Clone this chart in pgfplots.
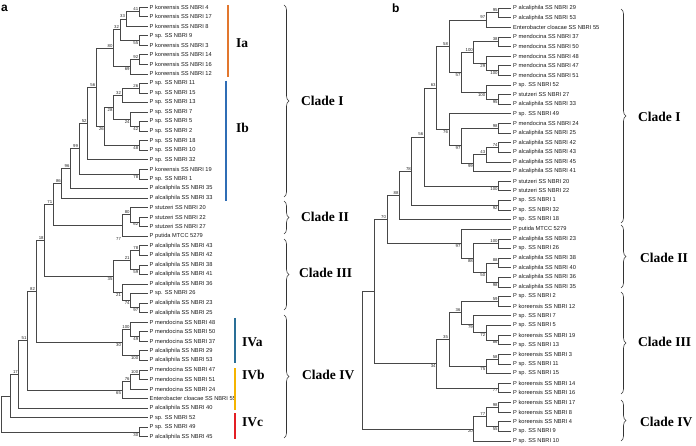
\documentclass[border=0pt]{standalone}
\usepackage{pgfplots}
\pgfplotsset{compat=1.18}
\usepackage{fontspec}
\setmainfont{Liberation Sans}
\newfontfamily\serifb{Liberation Serif}
\usetikzlibrary{decorations.pathreplacing}
\definecolor{iaorange}{HTML}{E2772E}
\definecolor{ibblue}{HTML}{2F6DB5}
\definecolor{ivablue}{HTML}{2A6F97}
\definecolor{ivbyellow}{HTML}{F5B400}
\definecolor{ivcred}{HTML}{E31E24}
\pgfplotsset{tr/.style={black!72, line width=0.75pt, no markers}}
\tikzset{bs/.style={font=\fontsize{4.3}{4.3}\selectfont, inner sep=0.8pt, text=black!85},
 lf/.style={anchor=west, font=\fontsize{5.7}{6}\selectfont, inner sep=0pt, text=black!90},
 cl/.style={anchor=west, font=\serifb\bfseries\fontsize{13.5}{14}\selectfont, inner sep=0pt},
 br/.style={decorate, decoration={brace, amplitude=5pt}, line width=0.6pt, black!80}}
% node: x, child1 x, child1 y, child2 y, child2 x
\newcommand{\nd}[5]{\addplot[tr] coordinates {(#2,#3) (#1,#3) (#1,#4) (#5,#4)};}
\newcommand{\bu}[3]{\node[bs,anchor=south east] at (axis cs:#1,#2) {#3};}
\newcommand{\bd}[3]{\node[bs,anchor=north east] at (axis cs:#1,#2) {#3};}
\newcommand{\lfa}[2]{\node[lf] at (axis cs:149.5,#1) {#2};}
\newcommand{\lfb}[2]{\node[lf] at (axis cs:513,#1) {#2};}
\begin{document}
\begin{tikzpicture}
\begin{axis}[width=696pt, height=446pt, scale only axis, xmin=0, xmax=696, ymin=0, ymax=446,
  y dir=reverse, hide axis, clip=false]
\path (rel axis cs:0,0) rectangle (rel axis cs:1,1);
% ================= PANEL A =================
\nd{139.2}{147.8}{7.0}{16.6}{147.8}     \bu{139.2}{11.8}{41}
\nd{126.0}{139.2}{11.8}{26.1}{147.8}    \bu{126.0}{18.95}{33}
\nd{139.2}{147.8}{35.7}{45.2}{147.8}    \bd{139.2}{40.45}{55}
\nd{120.0}{126.0}{18.95}{40.45}{139.2}  \bu{120.0}{29.7}{32}
\nd{139.2}{147.8}{54.8}{64.3}{147.8}    \bu{139.2}{59.55}{92}
\nd{130.6}{139.2}{59.55}{73.9}{147.8}   \bd{130.6}{66.7}{69}
\nd{113.4}{120.0}{29.7}{66.7}{130.6}    \bu{113.4}{48.2}{80}
\nd{139.2}{147.8}{83.4}{93.0}{147.8}    \bu{139.2}{88.2}{26}
\nd{122.0}{139.2}{88.2}{102.5}{147.8}   \bu{122.0}{95.35}{32}
\nd{139.2}{147.8}{121.6}{131.2}{147.8}  \bd{139.2}{126.4}{42}
\nd{130.6}{147.8}{112.1}{126.4}{139.2}  \bd{130.6}{119.25}{24}
\nd{113.4}{122.0}{95.35}{119.25}{130.6} \bd{113.4}{107.3}{28}
\nd{139.2}{147.8}{140.7}{150.3}{147.8}  \bd{139.2}{145.5}{48}
\nd{104.8}{113.4}{107.3}{145.5}{139.2}  \bd{104.8}{126.4}{26}
\nd{96.2}{113.4}{48.2}{126.4}{104.8}    \bu{96.2}{87.3}{56}
\nd{87.6}{96.2}{87.3}{159.8}{147.8}     \bu{87.6}{123.55}{52}
\nd{139.2}{147.8}{169.4}{178.9}{147.8}  \bd{139.2}{174.15}{78}
\nd{79.0}{87.6}{123.55}{174.15}{139.2}  \bu{79.0}{148.85}{99}
\nd{70.4}{79.0}{148.85}{188.5}{147.8}   \bu{70.4}{168.7}{96}
\nd{61.8}{70.4}{168.7}{198.0}{147.8}    \bu{61.8}{183.35}{86}
\nd{139.2}{147.8}{217.1}{226.7}{147.8}  \bd{139.2}{221.9}{62}
\nd{130.6}{147.8}{207.6}{221.9}{139.2}  \bu{130.6}{214.75}{80}
\nd{122.0}{130.6}{214.75}{236.2}{147.8} \bd{122.0}{236.2}{77}
\nd{53.2}{61.8}{183.35}{225.5}{122.0}   \bu{53.2}{204.4}{71}
\nd{139.2}{147.8}{245.8}{255.3}{147.8}  \bu{139.2}{250.55}{78}
\nd{139.2}{147.8}{264.9}{274.4}{147.8}  \bd{139.2}{269.65}{59}
\nd{130.6}{139.2}{250.55}{269.65}{139.2}\bu{130.6}{260.1}{21}
\nd{139.2}{147.8}{303.1}{312.6}{147.8}  \bd{139.2}{307.85}{97}
\nd{130.6}{147.8}{293.5}{307.85}{139.2} \bd{130.6}{300.7}{74}
\nd{122.0}{147.8}{284.0}{300.7}{130.6}  \bd{122.0}{292.35}{21}
\nd{113.4}{130.6}{260.1}{292.35}{122.0} \bd{113.4}{276.2}{35}
\nd{44.6}{53.2}{204.4}{276.2}{113.4}    \bu{44.6}{240.3}{18}
\nd{139.2}{147.8}{331.7}{341.3}{147.8}  \bd{139.2}{336.5}{49}
\nd{130.6}{147.8}{322.2}{336.5}{139.2}  \bu{130.6}{329.35}{100}
\nd{139.2}{147.8}{350.8}{360.4}{147.8}  \bd{139.2}{355.6}{100}
\nd{122.0}{130.6}{329.35}{355.6}{139.2} \bd{122.0}{342.5}{30}
\nd{36.0}{44.6}{240.3}{342.5}{122.0}    \bu{36.0}{291.4}{82}
\nd{139.2}{147.8}{369.9}{379.5}{147.8}  \bu{139.2}{374.7}{100}
\nd{130.6}{139.2}{374.7}{389.0}{147.8}  \bu{130.6}{381.85}{76}
\nd{122.0}{130.6}{381.85}{398.6}{147.8} \bd{122.0}{390.2}{65}
\nd{27.4}{36.0}{291.4}{390.2}{122.0}    \bu{27.4}{340.8}{51}
\nd{18.8}{27.4}{340.8}{408.1}{147.8}    \bu{18.8}{374.45}{17}
\nd{10.2}{18.8}{374.45}{417.7}{147.8}
\nd{139.2}{147.8}{427.2}{436.8}{147.8}  \bd{139.2}{432.0}{30}
\nd{1.6}{10.2}{396.1}{432.0}{139.2}
% leaves A
\lfa{7.0}{P koreensis SS NBRI 4}
\lfa{16.6}{P koreensis SS NBRI 17}
\lfa{26.1}{P koreensis SS NBRI 8}
\lfa{35.7}{P sp. SS NBRI 9}
\lfa{45.2}{P koreensis SS NBRI 3}
\lfa{54.8}{P koreensis SS NBRI 14}
\lfa{64.3}{P koreensis SS NBRI 16}
\lfa{73.9}{P koreensis SS NBRI 12}
\lfa{83.4}{P sp. SS NBRI 11}
\lfa{93.0}{P sp. SS NBRI 15}
\lfa{102.5}{P sp. SS NBRI 13}
\lfa{112.1}{P sp. SS NBRI 7}
\lfa{121.6}{P sp. SS NBRI 5}
\lfa{131.2}{P sp. SS NBRI 2}
\lfa{140.7}{P sp. SS NBRI 18}
\lfa{150.3}{P sp. SS NBRI 10}
\lfa{159.8}{P sp. SS NBRI 32}
\lfa{169.4}{P koreensis SS NBRI 19}
\lfa{178.9}{P sp. SS NBRI 1}
\lfa{188.5}{P alcaliphila SS NBRI 35}
\lfa{198.0}{P alcaliphila SS NBRI 33}
\lfa{207.6}{P stutzeri SS NBRI 20}
\lfa{217.1}{P stutzeri SS NBRI 22}
\lfa{226.7}{P stutzeri SS NBRI 27}
\lfa{236.2}{P putida MTCC 5279}
\lfa{245.8}{P alcaliphila SS NBRI 43}
\lfa{255.3}{P alcaliphila SS NBRI 42}
\lfa{264.9}{P alcaliphila SS NBRI 38}
\lfa{274.4}{P alcaliphila SS NBRI 41}
\lfa{284.0}{P alcaliphila SS NBRI 36}
\lfa{293.5}{P sp. SS NBRI 26}
\lfa{303.1}{P alcaliphila SS NBRI 23}
\lfa{312.6}{P alcaliphila SS NBRI 25}
\lfa{322.2}{P mendocina SS NBRI 48}
\lfa{331.7}{P mendocina SS NBRI 50}
\lfa{341.3}{P mendocina SS NBRI 37}
\lfa{350.8}{P alcaliphila SS NBRI 29}
\lfa{360.4}{P alcaliphila SS NBRI 53}
\lfa{369.9}{P mendocina SS NBRI 47}
\lfa{379.5}{P mendocina SS NBRI 51}
\lfa{389.0}{P mendocina SS NBRI 24}
\lfa{398.6}{Enterobacter cloacae SS NBRI 55}
\lfa{408.1}{P alcaliphila SS NBRI 40}
\lfa{417.7}{P sp. SS NBRI 52}
\lfa{427.2}{P sp. SS NBRI 49}
\lfa{436.8}{P alcaliphila SS NBRI 45}
% coloured bars A
\addplot[iaorange, line width=1.8pt] coordinates {(228,5) (228,77)};
\addplot[ibblue, line width=1.8pt] coordinates {(226,81) (226,201)};
\addplot[ivablue, line width=1.8pt] coordinates {(235,318) (235,363)};
\addplot[ivbyellow, line width=1.8pt] coordinates {(235,368) (235,410)};
\addplot[ivcred, line width=1.8pt] coordinates {(235,413) (235,439)};
\node[cl] at (axis cs:236,43) {Ia};
\node[cl] at (axis cs:236,128) {Ib};
\node[cl] at (axis cs:242,342) {IVa};
\node[cl] at (axis cs:242,375) {IVb};
\node[cl] at (axis cs:242,422) {IVc};
\draw[br] (axis cs:284,5) -- (axis cs:284,197);
\draw[br] (axis cs:284,201) -- (axis cs:284,234);
\draw[br] (axis cs:284,239) -- (axis cs:284,310);
\draw[br] (axis cs:284,315) -- (axis cs:284,438);
\node[cl] at (axis cs:301,101) {Clade I};
\node[cl] at (axis cs:301,217) {Clade II};
\node[cl] at (axis cs:299,273) {Clade III};
\node[cl] at (axis cs:302,375) {Clade IV};
\node[anchor=west, inner sep=0pt, font=\bfseries\fontsize{12}{12}\selectfont] at (axis cs:1,8) {a};
\node[anchor=west, inner sep=0pt, font=\bfseries\fontsize{12}{12}\selectfont] at (axis cs:392,8) {b};
% ================= PANEL B =================
\nd{498.6}{511}{8.0}{17.6}{511}         \bu{498.6}{12.8}{95}
\nd{486.2}{498.6}{12.8}{27.2}{511}      \bu{486.2}{20.0}{97}
\nd{498.6}{511}{36.9}{46.5}{511}        \bu{498.6}{41.7}{38}
\nd{498.6}{511}{65.7}{75.3}{511}        \bd{498.6}{70.5}{100}
\nd{486.2}{511}{56.1}{70.5}{498.6}      \bd{486.2}{63.3}{29}
\nd{473.8}{498.6}{41.7}{63.3}{486.2}    \bu{473.8}{52.5}{100}
\nd{498.6}{511}{94.6}{104.2}{511}       \bd{498.6}{99.4}{95}
\nd{486.2}{511}{85.0}{99.4}{498.6}      \bd{486.2}{92.2}{100}
\nd{461.4}{473.8}{52.5}{92.2}{486.2}    \bd{461.4}{72.35}{57}
\nd{449.0}{486.2}{20.0}{72.35}{461.4}   \bu{449.0}{46.2}{58}
\nd{498.6}{511}{123.4}{133.1}{511}      \bu{498.6}{128.25}{98}
\nd{498.6}{511}{142.7}{152.3}{511}      \bu{498.6}{147.5}{74}
\nd{486.2}{498.6}{147.5}{161.9}{511}    \bu{486.2}{154.7}{43}
\nd{473.8}{486.2}{154.7}{171.5}{511}    \bd{473.8}{163.1}{99}
\nd{461.4}{498.6}{128.25}{163.1}{473.8} \bd{461.4}{145.7}{97}
\nd{449.0}{511}{113.8}{145.7}{461.4}    \bd{449.0}{129.75}{76}
\nd{436.6}{449.0}{46.2}{129.75}{449.0}  \bu{436.6}{88.0}{63}
\nd{498.6}{511}{181.2}{190.8}{511}      \bd{498.6}{186.0}{100}
\nd{424.2}{436.6}{88.0}{186.0}{498.6}   \bu{424.2}{137.0}{56}
\nd{498.6}{511}{200.4}{210.0}{511}      \bd{498.6}{205.2}{92}
\nd{411.8}{424.2}{137.0}{205.2}{498.6}  \bu{411.8}{171.1}{78}
\nd{399.4}{411.8}{171.1}{219.6}{511}    \bu{399.4}{195.35}{88}
\nd{498.6}{511}{238.9}{248.5}{511}      \bu{498.6}{243.7}{100}
\nd{498.6}{511}{258.1}{267.7}{511}      \bu{498.6}{262.9}{88}
\nd{498.6}{511}{277.4}{287.0}{511}      \bd{498.6}{282.2}{98}
\nd{486.2}{498.6}{262.9}{282.2}{498.6}  \bd{486.2}{272.55}{50}
\nd{473.8}{498.6}{243.7}{272.55}{486.2} \bd{473.8}{258.1}{88}
\nd{461.4}{511}{229.3}{258.1}{473.8}    \bd{461.4}{243.7}{97}
\nd{387.0}{399.4}{195.35}{243.7}{461.4} \bu{387.0}{219.5}{70}
\nd{498.6}{511}{296.6}{306.2}{511}      \bu{498.6}{301.4}{59}
\nd{498.6}{511}{335.1}{344.7}{511}      \bd{498.6}{339.9}{86}
\nd{486.2}{511}{325.5}{339.9}{498.6}    \bd{486.2}{332.7}{72}
\nd{473.8}{511}{315.8}{332.7}{486.2}    \bd{473.8}{324.25}{79}
\nd{461.4}{498.6}{301.4}{324.25}{473.8} \bu{461.4}{312.8}{36}
\nd{498.6}{511}{354.3}{363.9}{511}      \bu{498.6}{359.1}{58}
\nd{486.2}{498.6}{359.1}{373.6}{511}    \bd{486.2}{366.35}{75}
\nd{449.0}{461.4}{312.8}{366.35}{486.2} \bu{449.0}{339.6}{35}
\nd{498.6}{511}{383.2}{392.8}{511}      \bd{498.6}{388.0}{77}
\nd{436.6}{449.0}{339.6}{388.0}{498.6}  \bd{436.6}{363.8}{34}
\nd{374.6}{387.0}{219.5}{363.8}{436.6}
\nd{498.6}{511}{402.4}{412.0}{511}      \bu{498.6}{407.2}{98}
\nd{498.6}{511}{421.7}{431.3}{511}      \bd{498.6}{426.5}{55}
\nd{486.2}{498.6}{407.2}{426.5}{498.6}  \bu{486.2}{416.85}{77}
\nd{473.8}{486.2}{416.85}{440.9}{511}   \bd{473.8}{428.9}{20}
\nd{362.2}{374.6}{291.65}{428.9}{473.8}
% leaves B
\lfb{8.0}{P alcaliphila SS NBRI 29}
\lfb{17.6}{P alcaliphila SS NBRI 53}
\lfb{27.2}{Enterobacter cloacae SS NBRI 55}
\lfb{36.9}{P mendocina SS NBRI 37}
\lfb{46.5}{P mendocina SS NBRI 50}
\lfb{56.1}{P mendocina SS NBRI 48}
\lfb{65.7}{P mendocina SS NBRI 47}
\lfb{75.3}{P mendocina SS NBRI 51}
\lfb{85.0}{P sp. SS NBRI 52}
\lfb{94.6}{P stutzeri SS NBRI 27}
\lfb{104.2}{P alcaliphila SS NBRI 33}
\lfb{113.8}{P sp. SS NBRI 49}
\lfb{123.4}{P mendocina SS NBRI 24}
\lfb{133.1}{P alcaliphila SS NBRI 25}
\lfb{142.7}{P alcaliphila SS NBRI 42}
\lfb{152.3}{P alcaliphila SS NBRI 43}
\lfb{161.9}{P alcaliphila SS NBRI 45}
\lfb{171.5}{P alcaliphila SS NBRI 41}
\lfb{181.2}{P stutzeri SS NBRI 20}
\lfb{190.8}{P stutzeri SS NBRI 22}
\lfb{200.4}{P sp. SS NBRI 1}
\lfb{210.0}{P sp. SS NBRI 32}
\lfb{219.6}{P sp. SS NBRI 18}
\lfb{229.3}{P putida MTCC 5279}
\lfb{238.9}{P alcaliphila SS NBRI 23}
\lfb{248.5}{P sp. SS NBRI 26}
\lfb{258.1}{P alcaliphila SS NBRI 38}
\lfb{267.7}{P alcaliphila SS NBRI 40}
\lfb{277.4}{P alcaliphila SS NBRI 36}
\lfb{287.0}{P alcaliphila SS NBRI 35}
\lfb{296.6}{P sp. SS NBRI 2}
\lfb{306.2}{P koreensis SS NBRI 12}
\lfb{315.8}{P sp. SS NBRI 7}
\lfb{325.5}{P sp. SS NBRI 5}
\lfb{335.1}{P koreensis SS NBRI 19}
\lfb{344.7}{P sp. SS NBRI 13}
\lfb{354.3}{P koreensis SS NBRI 3}
\lfb{363.9}{P sp. SS NBRI 11}
\lfb{373.6}{P sp. SS NBRI 15}
\lfb{383.2}{P koreensis SS NBRI 14}
\lfb{392.8}{P koreensis SS NBRI 16}
\lfb{402.4}{P koreensis SS NBRI 17}
\lfb{412.0}{P koreensis SS NBRI 8}
\lfb{421.7}{P koreensis SS NBRI 4}
\lfb{431.3}{P sp. SS NBRI 9}
\lfb{440.9}{P sp. SS NBRI 10}
\draw[br] (axis cs:621,9) -- (axis cs:621,223);
\draw[br] (axis cs:621,225) -- (axis cs:621,288);
\draw[br] (axis cs:621,292) -- (axis cs:621,394);
\draw[br] (axis cs:621,400) -- (axis cs:621,441);
\node[cl] at (axis cs:638,117) {Clade I};
\node[cl] at (axis cs:640,258) {Clade II};
\node[cl] at (axis cs:638,342) {Clade III};
\node[cl] at (axis cs:640,422) {Clade IV};
\end{axis}
\end{tikzpicture}
\end{document}
